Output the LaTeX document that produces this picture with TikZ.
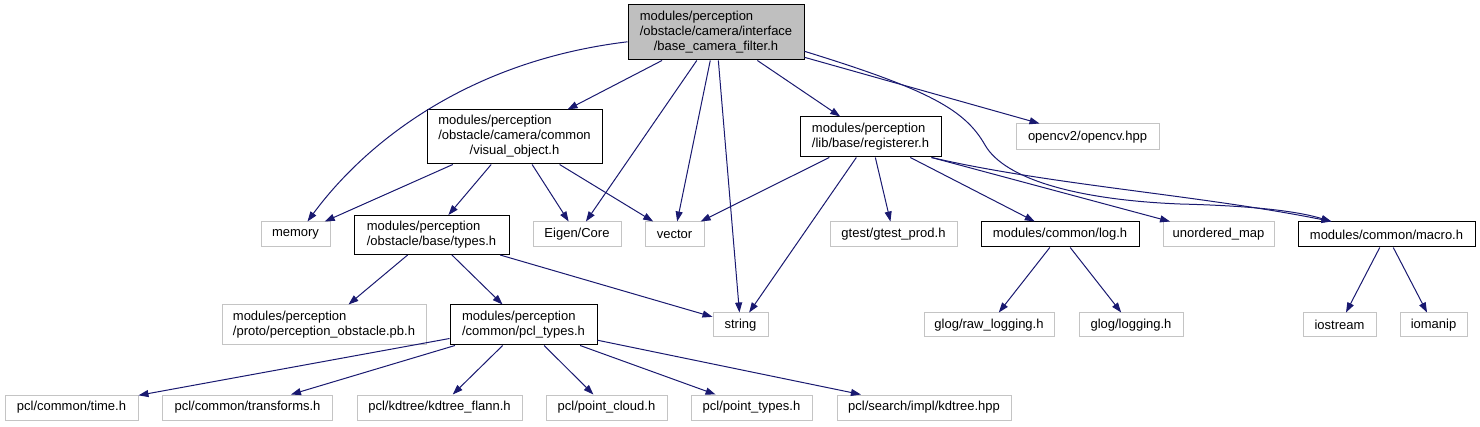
\documentclass[tikz,border=0pt]{standalone}
\usepackage{fontspec}
\setmainfont{Liberation Sans}
\usetikzlibrary{arrows.meta}

\definecolor{edgeblue}{HTML}{191970}
\definecolor{rootgray}{HTML}{BFBFBF}
\definecolor{sysgray}{HTML}{C4C4C4}

\newcommand{\twolines}[2]{\begin{tabular}{@{}l@{}}#1\\#2\end{tabular}}
\newcommand{\threelines}[3]{\begin{tabular}{@{}l@{}}#1\\#2\\\multicolumn{1}{@{}c@{}}{#3}\end{tabular}}

\tikzset{
    hdr/.style={draw=black, fill=white, line width=1pt, inner sep=0pt,
        font=\fontsize{13}{15}\selectfont},
    sys/.style={hdr, draw=sysgray},
    topfile/.style={hdr, fill=rootgray},
    wh/.style 2 args={minimum width=#1, minimum height=#2},
    dep/.style={draw=edgeblue, line width=1pt, -{Triangle[length=10pt,width=7pt]}}
}

\begin{document}
\begin{tikzpicture}[x=1pt, y=-1pt]
    \useasboundingbox (0,0) rectangle (1480,427);
    \path node[topfile, wh={176pt}{55pt}] (root) at (716,32.5)
            {\threelines{modules/perception}{/obstacle/camera/interface}{/base\_camera\_filter.h}}
        node[hdr, wh={175pt}{54pt}] (vobj) at (514.5,137)
            {\threelines{modules/perception}{/obstacle/camera/common}{/visual\_object.h}}
        node[hdr, wh={141pt}{40pt}] (reg) at (870.5,137)
            {\twolines{modules/perception}{/lib/base/registerer.h}}
        node[sys, wh={143pt}{26pt}] (cv) at (1087.5,137) {opencv2/opencv.hpp}
        node[sys, wh={69pt}{25pt}] (mem) at (295.5,234.5) {memory}
        node[hdr, wh={155pt}{39pt}] (types) at (431.5,235)
            {\twolines{modules/perception}{/obstacle/base/types.h}}
        node[sys, wh={88pt}{25pt}] (eigen) at (577,234.5) {Eigen/Core}
        node[sys, wh={59pt}{25pt}] (vec) at (674.5,234.5) {vector}
        node[sys, wh={127pt}{25pt}] (gtest) at (893.5,234.5) {gtest/gtest\_prod.h}
        node[hdr, wh={158pt}{25pt}] (log) at (1060,234.5) {modules/common/log.h}
        node[sys, wh={111pt}{25pt}] (umap) at (1218.5,234.5) {unordered\_map}
        node[hdr, wh={177pt}{25pt}] (macro) at (1386.5,234.5) {modules/common/macro.h}
        node[sys, wh={204pt}{40pt}] (pb) at (324,325)
            {\twolines{modules/perception}{/proto/perception\_obstacle.pb.h}}
        node[hdr, wh={147pt}{40pt}] (pcl) at (523.5,325)
            {\twolines{modules/perception}{/common/pcl\_types.h}}
        node[sys, wh={55pt}{24pt}] (str) at (740.5,325) {string}
        node[sys, wh={130pt}{24pt}] (rawlog) at (989,325) {glog/raw\_logging.h}
        node[sys, wh={104pt}{24pt}] (glog) at (1131,325) {glog/logging.h}
        node[sys, wh={73pt}{24pt}] (ios) at (1339.5,325) {iostream}
        node[sys, wh={67pt}{24pt}] (iomanip) at (1433.5,325) {iomanip}
        node[sys, wh={133pt}{25pt}] (time) at (71.5,407.5) {pcl/common/time.h}
        node[sys, wh={170pt}{25pt}] (transf) at (247.5,407.5) {pcl/common/transforms.h}
        node[sys, wh={165pt}{25pt}] (flann) at (439.5,407.5) {pcl/kdtree/kdtree\_flann.h}
        node[sys, wh={121pt}{25pt}] (cloud) at (606.5,407.5) {pcl/point\_cloud.h}
        node[sys, wh={121pt}{25pt}] (ptypes) at (751.5,407.5) {pcl/point\_types.h}
        node[sys, wh={174pt}{25pt}] (kdtree) at (924,407.5) {pcl/search/impl/kdtree.hpp};
    % base_camera_filter.h
    \draw[dep] (root.186) .. controls (460,62) and (360,150) .. ([xshift=12pt]mem.north);
    \draw[dep] (root) -- (vobj);
    \draw[dep] (root) -- (eigen);
    \draw[dep] (root) -- (vec);
    \draw[dep] (root) -- (str);
    \draw[dep] (root) -- (reg);
    \draw[dep] (root) -- (cv);
    \draw[dep] (root.-12) .. controls (930,90) and (965,110) .. (985,145)
        .. controls (1005,180) and (1080,200) .. (1180,204)
        .. controls (1260,206) and (1300,212) .. ([xshift=34pt]macro.north west);
    % visual_object.h
    \draw[dep] (vobj) -- (mem);
    \draw[dep] (vobj) -- (types);
    \draw[dep] (vobj) -- (eigen);
    \draw[dep] (vobj) -- (vec);
    % registerer.h
    \draw[dep] (reg) -- (vec);
    \draw[dep] (reg) -- (str);
    \draw[dep] (reg) -- (gtest);
    \draw[dep] (reg) -- (log);
    \draw[dep] ([xshift=-10pt]reg.south east) -- (umap);
    \draw[dep] ([xshift=-10pt]reg.south east) .. controls (1050,185) and (1200,195)
        .. ([xshift=34pt]macro.north west);
    % types.h
    \draw[dep] (types) -- (pb);
    \draw[dep] (types) -- (pcl);
    \draw[dep] (types) -- (str);
    % pcl_types.h
    \draw[dep] (pcl) -- (time);
    \draw[dep] (pcl) -- (transf);
    \draw[dep] (pcl) -- (flann);
    \draw[dep] (pcl) -- (cloud);
    \draw[dep] (pcl) -- (ptypes);
    \draw[dep] (pcl) -- (kdtree);
    % log.h, macro.h
    \draw[dep] (log) -- (rawlog);
    \draw[dep] (log) -- (glog);
    \draw[dep] (macro) -- (ios);
    \draw[dep] (macro) -- (iomanip);
\end{tikzpicture}
\end{document}
